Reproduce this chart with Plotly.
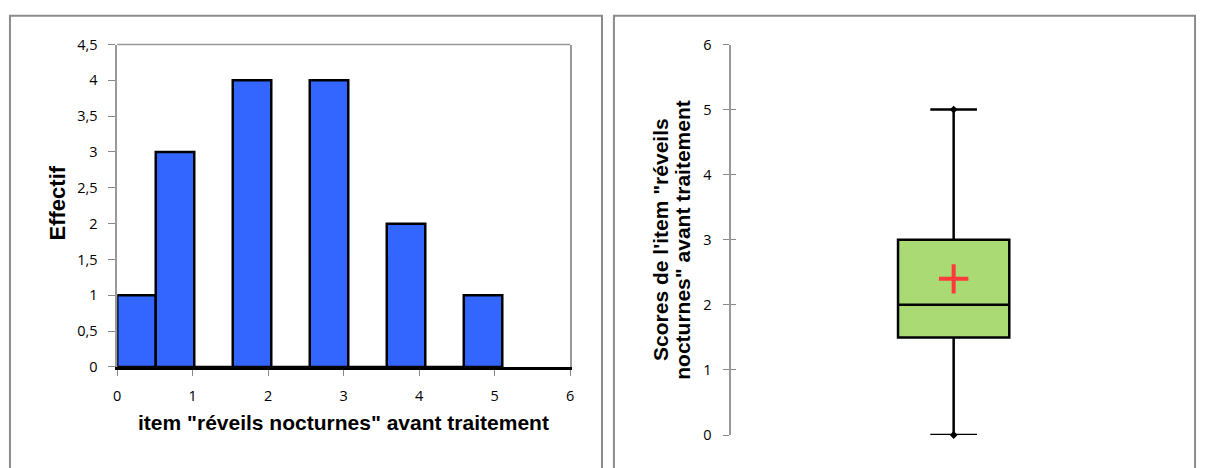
import plotly.graph_objects as go

# Histogram data (bins of width 0.51 from 0 to 5.1)
bin_edges = [0, 0.51, 1.02, 1.53, 2.04, 2.55, 3.06, 3.57, 4.08, 4.59, 5.10]
counts = [1, 3, 0, 4, 0, 4, 0, 2, 0, 1]
hist_xlabel = 'item "réveils nocturnes" avant traitement'
hist_ylabel = "Effectif"

# Box plot summary
box_min = 0
box_q1 = 1.5
box_median = 2
box_q3 = 3
box_max = 5
box_mean = 2.4
box_ylabel_lines = ['Scores de l\'item "réveils', 'nocturnes" avant traitement']

W, H = 1206, 468
centers = [(bin_edges[i] + bin_edges[i + 1]) / 2 for i in range(len(counts))]
widths = [bin_edges[i + 1] - bin_edges[i] for i in range(len(counts))]

fig = go.Figure()
fig.add_trace(go.Bar(
    x=centers, y=counts, width=widths,
    marker=dict(color="#3366FF", line=dict(color="black", width=2.5)),
    xaxis="x", yaxis="y", showlegend=False,
))

fig.add_trace(go.Box(
    x=[0], q1=[box_q1], median=[box_median], q3=[box_q3],
    lowerfence=[box_min], upperfence=[box_max],
    width=0.25, whiskerwidth=0.42,
    fillcolor="#A9DA74", line=dict(color="black", width=2.5),
    boxpoints=False, xaxis="x2", yaxis="y2", showlegend=False,
))
fig.add_trace(go.Scatter(
    x=[0, 0], y=[box_min, box_max], mode="markers",
    marker=dict(symbol="diamond", size=6, color="black"),
    xaxis="x2", yaxis="y2", showlegend=False, cliponaxis=False,
))
fig.add_trace(go.Scatter(
    x=[0], y=[box_mean], mode="markers",
    marker=dict(symbol="cross-thin", size=21, color="#FF3B3B",
                line=dict(color="#FF3B3B", width=4)),
    xaxis="x2", yaxis="y2", showlegend=False,
))
# invisible trace to activate the inside-tick overlay axis
fig.add_trace(go.Scatter(x=[0], y=[0], mode="markers", marker=dict(opacity=0),
                         xaxis="x2", yaxis="y3", showlegend=False, hoverinfo="skip"))

tickfont = dict(family="Open Sans, Liberation Sans, sans-serif", size=14.5, color="black")
titlefont = dict(family="Liberation Sans, Arial, sans-serif", size=21, color="black")

def px_x(p):
    return p / W

def px_y(p):
    return 1 - p / H

fig.update_layout(
    width=W, height=H,
    margin=dict(l=0, r=0, t=0, b=0),
    paper_bgcolor="white", plot_bgcolor="white",
    separators=", ",
    xaxis=dict(
        domain=[px_x(114), px_x(570)], range=[0, 6], dtick=1,
        showgrid=False, zeroline=False,
        showline=True, linecolor="black", linewidth=2.5,
        ticks="outside", ticklen=6, tickcolor="#888888", tickwidth=1,
        ticklabelstandoff=8,
        tickfont=tickfont, anchor="y",
    ),
    yaxis=dict(
        domain=[px_y(372), px_y(36)], range=[0, 4.5], dtick=0.5,
        showgrid=False, zeroline=False,
        showline=True, linecolor="#999999", linewidth=1.5, mirror=True,
        ticks="outside", ticklen=7, tickcolor="#888888", tickwidth=1,
        ticklabelstandoff=8,
        tickfont=tickfont, anchor="x",
    ),
    xaxis2=dict(
        domain=[px_x(732), px_x(1180)], range=[-0.5, 0.5],
        visible=False, anchor="y2",
    ),
    yaxis2=dict(
        domain=[px_y(443), px_y(36)], range=[0, 6], dtick=1,
        showgrid=False, zeroline=False,
        showline=True, linecolor="#999999", linewidth=1.5,
        ticks="outside", ticklen=6, tickcolor="#888888", tickwidth=1,
        ticklabelstandoff=9,
        tickfont=tickfont, anchor="x2",
    ),
    yaxis3=dict(
        domain=[px_y(443), px_y(36)], range=[0, 6], dtick=1,
        showgrid=False, zeroline=False, showticklabels=False,
        ticks="inside", ticklen=5, tickcolor="#888888", tickwidth=1,
        overlaying="y2", anchor="x2",
    ),
    shapes=[
        dict(type="rect", xref="paper", yref="paper",
             x0=px_x(6), x1=px_x(602), y0=-0.05, y1=px_y(6),
             line=dict(color="#8C8C8C", width=2), layer="below"),
        dict(type="rect", xref="paper", yref="paper",
             x0=px_x(614), x1=px_x(1199), y0=-0.05, y1=px_y(6),
             line=dict(color="#8C8C8C", width=2), layer="below"),
        dict(type="line", xref="x domain", yref="y domain",
             x0=0, x1=1, y0=1, y1=1,
             line=dict(color="#999999", width=1.5), layer="below"),
    ],
    annotations=[
        dict(text="<b>" + hist_xlabel + "</b>", xref="paper", yref="paper",
             x=px_x(341.5), y=px_y(430), showarrow=False, font=titlefont,
             xanchor="center", yanchor="middle"),
        dict(text="<b>" + hist_ylabel + "</b>", xref="paper", yref="paper",
             x=px_x(54), y=px_y(201), showarrow=False,
             font=dict(titlefont, size=22),
             textangle=-90, xanchor="center", yanchor="middle"),
        dict(text="<b>" + box_ylabel_lines[0] + "</b>", xref="paper", yref="paper",
             x=px_x(661), y=px_y(239), showarrow=False, font=titlefont,
             textangle=-90, xanchor="center", yanchor="middle"),
        dict(text="<b>" + box_ylabel_lines[1] + "</b>", xref="paper", yref="paper",
             x=px_x(683), y=px_y(239), showarrow=False, font=titlefont,
             textangle=-90, xanchor="center", yanchor="middle"),
    ],
)

fig.write_html(
    "out.html",
    config={"displayModeBar": False},
    post_script="document.body.style.margin='0';document.body.style.overflow='hidden';"
                "document.documentElement.style.overflow='hidden';",
)
